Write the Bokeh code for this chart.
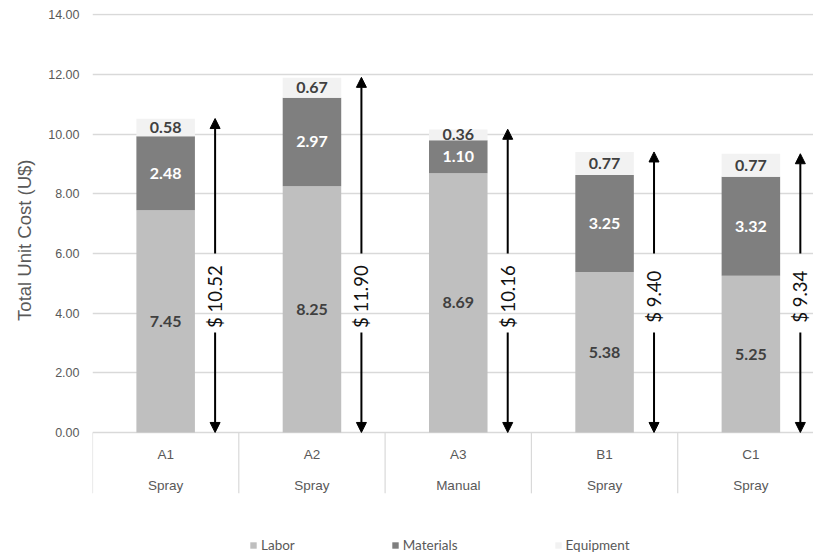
import numpy as np
from math import pi
from bokeh.plotting import figure
from bokeh.models import (ColumnDataSource, Range1d, FixedTicker, NumeralTickFormatter,
                          Arrow, NormalHead, Title)
from bokeh.core.properties import value
from bokeh.embed import file_html
from bokeh.resources import INLINE

# ---- data ----
codes = ["A1", "A2", "A3", "B1", "C1"]
methods = ["Spray", "Spray", "Manual", "Spray", "Spray"]
labor = [7.45, 8.25, 8.69, 5.38, 5.25]
materials = [2.48, 2.97, 1.10, 3.25, 3.32]
equipment = [0.58, 0.67, 0.36, 0.77, 0.77]
totals = [10.52, 11.90, 10.16, 9.40, 9.34]
y_ticks = [0, 2, 4, 6, 8, 10, 12, 14]

series = ["Labor", "Materials", "Equipment"]
colors = ["#bfbfbf", "#7f7f7f", "#f2f2f2"]
label_colors = ["#404040", "#ffffff", "#404040"]

n = len(codes)
xc = [i + 0.5 for i in range(n)]
src = ColumnDataSource(dict(x=xc, Labor=labor, Materials=materials, Equipment=equipment))

NUM_FONT = "Lato"
AX_FONT = "Liberation Sans"

p = figure(width=813, height=556, output_backend="svg", toolbar_location=None,
           x_range=Range1d(0, 4.928), y_range=Range1d(-4.157, 14.04),
           x_axis_location=None,
           min_border_left=92, min_border_right=0, min_border_top=13, min_border_bottom=0)
p.outline_line_color = None
p.background_fill_color = "white"

# axis
ax = p.yaxis[0]
ax.ticker = FixedTicker(ticks=y_ticks)
ax.formatter = NumeralTickFormatter(format="0.00")
ax.major_tick_line_color = None
ax.minor_tick_line_color = None
ax.major_tick_out = 0
ax.major_tick_in = 0
ax.axis_line_color = None
ax.major_label_standoff = 13
ax.major_label_text_font = AX_FONT
ax.major_label_text_font_size = "12.5px"
ax.major_label_text_color = "#595959"

p.xgrid.visible = False
p.ygrid.ticker = FixedTicker(ticks=y_ticks)
p.ygrid.grid_line_color = "#d9d9d9"
p.ygrid.grid_line_width = 1.5

# y axis title (placed on the left side panel)
p.add_layout(Title(text="Total Unit Cost (U$)", align="right", offset=146, standoff=21,
                   text_font=AX_FONT, text_font_size="18.5px", text_font_style="normal",
                   text_color="#595959"), "left")

# category table separators
sep_x = [float(i) for i in range(n)]
p.segment(x0=sep_x, y0=[0] * n, x1=sep_x, y1=[-2.04] * n, line_color="#d9d9d9", line_width=1.2)
p.text(x=xc, y=[-0.74] * n, text=codes, text_align="center", text_baseline="middle",
       text_font=value(AX_FONT), text_font_size="13.5px", text_color="#595959")
p.text(x=xc, y=[-1.78] * n, text=methods, text_align="center", text_baseline="middle",
       text_font=value(AX_FONT), text_font_size="13.5px", text_color="#595959")

# stacked bars
renderers = p.vbar_stack(series, x="x", width=0.4, color=colors, line_color=None,
                         source=src, legend_label=series)

# segment labels
vals = np.array([labor, materials, equipment])
cum = np.cumsum(vals, axis=0)
mids = cum - vals / 2.0
for k in range(3):
    p.text(x=xc, y=list(mids[k]), text=["%.2f" % v for v in vals[k]],
           text_align="center", text_baseline="middle",
           text_font=value(NUM_FONT), text_font_style="bold", text_font_size="16px",
           text_color=label_colors[k])

# arrows with total labels
off = 0.338
label_y = 4.55
gap_lo, gap_hi = 3.35, 6.0
for i in range(n):
    ax_x = xc[i] + off
    p.add_layout(Arrow(end=NormalHead(size=10, fill_color="black", line_color="black"),
                       x_start=ax_x, y_start=gap_hi, x_end=ax_x, y_end=totals[i],
                       line_color="black", line_width=2))
    p.add_layout(Arrow(end=NormalHead(size=10, fill_color="black", line_color="black"),
                       x_start=ax_x, y_start=gap_lo, x_end=ax_x, y_end=0.0,
                       line_color="black", line_width=2))
p.text(x=[v + off for v in xc], y=[label_y] * n, text=["$ %.2f" % t for t in totals],
       angle=pi / 2, text_align="center", text_baseline="middle",
       text_font=value(NUM_FONT), text_font_size="18.5px", text_color="#111111")

# legend
lg = p.legend[0]
lg.orientation = "horizontal"
lg.location = (157, 3)
lg.padding = 0
lg.margin = 0
lg.spacing = 96
lg.glyph_width = 8
lg.glyph_height = 8
lg.label_height = 16
lg.label_standoff = 4
lg.label_text_font = NUM_FONT
lg.label_text_font_size = "13.5px"
lg.label_text_color = "#595959"
lg.background_fill_alpha = 0
lg.border_line_color = None

open("out.html", "w").write(file_html(p, INLINE))
